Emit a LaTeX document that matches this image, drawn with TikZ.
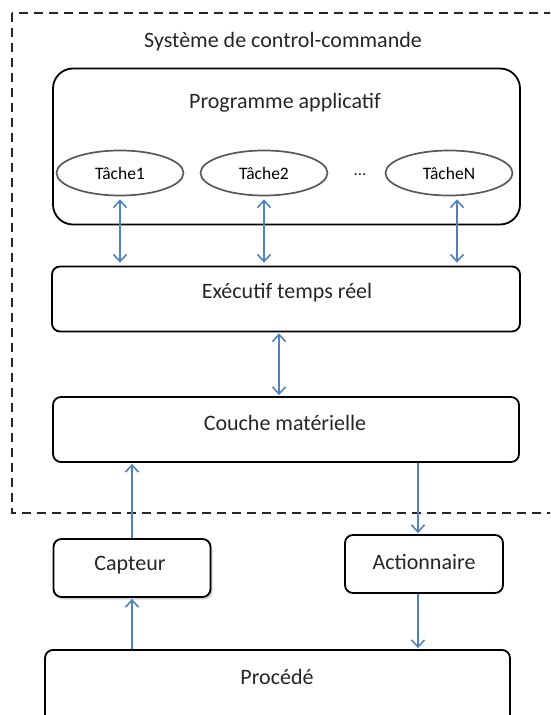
\documentclass[tikz,border=0pt]{standalone}
\usepackage{fontspec}
\setmainfont{Carlito}
\usetikzlibrary{arrows.meta,shapes.geometric,shadows}

\definecolor{linkblue}{HTML}{4F81BD}
\definecolor{taskline}{HTML}{595959}

\tikzset{
  box/.style={draw=black, line width=1.8pt, rounded corners=8pt, fill=white, inner sep=0pt},
  bigbox/.style={box, rounded corners=20pt},
  lbl/.style={font=\fontsize{22}{26}\selectfont, inner sep=0pt, text=black!85},
  task/.style={ellipse, draw=taskline, line width=1.7pt, fill=white,
    minimum width=127pt, minimum height=45pt, inner sep=0pt,
    font=\fontsize{17.5}{20}\selectfont},
  link/.style={draw=linkblue, line width=1.6pt},
  barb/.tip={Straight Barb[length=7pt, width=13pt, line width=1.6pt]},
  frame/.style={draw=black!85, line width=2pt, dash pattern=on 9pt off 6pt},
}

\begin{document}
\begin{tikzpicture}[x=1pt, y=-1pt]
  \useasboundingbox (0,0) rectangle (550,715);
  \clip (0,0) rectangle (550,715);

  % control system frame (dashed)
  \draw[frame] (12,13) rectangle (570,513);
  \node[lbl] (title) at (283,42) {Système de control-commande};

  % application program with its tasks
  \node[bigbox, minimum width=467pt, minimum height=156pt] (prog) at (286.5,146.5) {};
  \node[lbl] (progtxt) at (285,103) {Programme applicatif};
  \node[task] (t1) at (120,173) {Tâche1};
  \node[task] (t2) at (264,173) {Tâche2};
  \node[lbl, font=\fontsize{17}{20}\selectfont] (dots) at (360,175) {...};
  \node[task] (tn) at (449,173) {TâcheN};

  % real-time executive
  \node[box, minimum width=468pt, minimum height=65pt] (exec) at (286,299) {};
  \node[lbl] (exectxt) at (287,293) {Exécutif temps réel};

  % hardware layer
  \node[box, minimum width=466pt, minimum height=65pt] (hw) at (286,429.5) {};
  \node[lbl] (hwtxt) at (285,423) {Couche matérielle};

  % sensor / actuator
  \node[box, minimum width=157pt, minimum height=58pt,
        drop shadow={opacity=0.35, shadow xshift=2pt, shadow yshift=-2.5pt}] (sensor) at (132,568) {};
  \node[lbl] (sensortxt) at (130,565) {Capteur};
  \node[box, minimum width=158pt, minimum height=58pt] (act) at (424,564) {};
  \node[lbl] (acttxt) at (424,562) {Actionnaire};

  % process
  \node[box, minimum width=465pt, minimum height=100pt] (proc) at (277.5,700) {};
  \node[lbl] (proctxt) at (277,677) {Procédé};

  % task <-> executive links
  \draw[link, barb-barb, shorten <=3pt, shorten >=3pt] (t1.south) -- (t1.south |- exec.north);
  \draw[link, barb-barb, shorten <=3pt, shorten >=3pt] (t2.south) -- (t2.south |- exec.north);
  \draw[link, barb-barb, shorten <=3pt, shorten >=3pt]
    ([xshift=8pt]tn.south) -- ([xshift=8pt]tn.south |- exec.north);

  % executive <-> hardware
  \draw[link, barb-barb, shorten <=1pt, shorten >=1pt]
    ([xshift=-7pt]exec.south) -- ([xshift=-7pt]exec.south |- hw.north);

  % sensing path
  \draw[link, -barb, shorten >=1pt] (sensor.north) -- (sensor.north |- hw.south);
  \draw[link, -barb, shorten >=1pt] (sensor.north |- proc.north) -- (sensor.south);

  % actuation path
  \draw[link, -barb, shorten >=1pt] ([xshift=-6pt]act.north |- hw.south) -- ([xshift=-6pt]act.north);
  \draw[link, -barb, shorten >=1pt] ([xshift=-6pt]act.south) -- ([xshift=-6pt]act.south |- proc.north);
\end{tikzpicture}
\end{document}
